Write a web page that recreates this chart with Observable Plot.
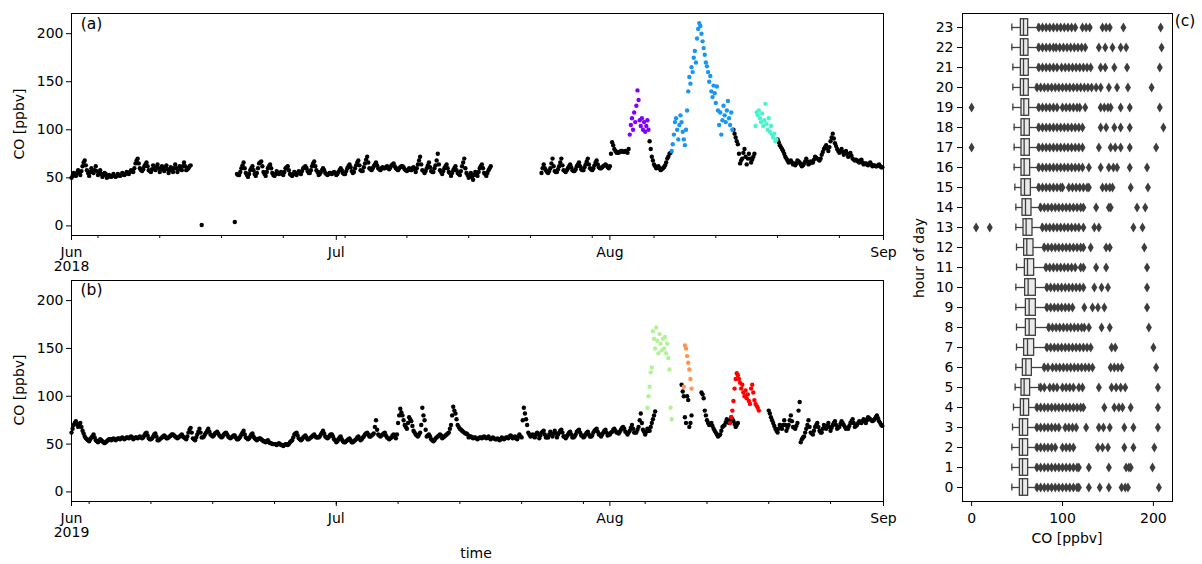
<!DOCTYPE html>
<html><head><meta charset="utf-8">
<script src="https://cdn.jsdelivr.net/npm/d3@7"></script>
<script src="https://cdn.jsdelivr.net/npm/@observablehq/plot@0.6"></script>
<style>
body{margin:0;background:#fff;font-family:"DejaVu Sans",sans-serif;}
#fig{position:relative;width:1202px;height:564px;overflow:hidden;background:#fff;}
.p{position:absolute;}
.t{position:absolute;transform:translate(-50%,-50%);white-space:nowrap;font-size:14px;color:#000;line-height:1;}
.r{transform:translate(-50%,-50%) rotate(-90deg);}
.pl{font-size:15.5px;}
</style></head><body>
<div id="fig">
 <div class="p" id="pa" style="left:0;top:0"></div>
 <div class="p" id="pb" style="left:0;top:267px"></div>
 <div class="p" id="pc" style="left:900px;top:0"></div>
 <div class="t r" style="left:19px;top:124px">CO [ppbv]</div>
 <div class="t r" style="left:19px;top:390px">CO [ppbv]</div>
 <div class="t" style="left:476px;top:553px">time</div>
 <div class="t r" style="left:919px;top:258px">hour of day</div>
 <div class="t" style="left:1067px;top:538px">CO [ppbv]</div>
 <div class="t pl" style="left:91.5px;top:25px">(a)</div>
 <div class="t pl" style="left:91.5px;top:291px">(b)</div>
 <div class="t pl" style="left:1185px;top:22px">(c)</div>
</div>
<script>
const N = null;
// ---- 2018 CO, 8 values per day (3 h step) from 2018-06-01 00:00 UTC
const co2018 = [
 50,52,55,54,52,55,58,55,
 53,57,62,66,68,63,58,55,
 52,56,60,57,55,58,62,57,
 53,56,58,54,51,53,55,54,
 50,51,53,52,51,52,54,52,
 51,52,54,53,52,53,55,54,
 53,54,56,55,54,56,58,57,
 56,60,65,68,70,65,60,58,
 57,59,62,64,66,62,58,57,
 56,59,63,60,58,61,64,60,
 56,59,62,60,57,60,63,59,
 55,58,61,58,56,60,64,60,
 56,59,62,60,58,62,66,62,
 58,59,60,62,63,N,N,N,
 N,N,N,N,N,N,1,N,
 N,N,N,N,N,N,N,N,
 N,N,N,N,N,N,N,N,
 N,N,N,N,N,N,N,N,
 N,N,N,N,4,N,54,53,
 53,56,60,63,66,60,55,53,
 51,54,58,60,62,58,54,52,
 55,60,65,66,67,62,56,54,
 52,56,60,62,64,60,55,53,
 52,54,57,55,54,55,56,54,
 53,56,60,61,62,58,54,53,
 52,54,56,54,53,55,57,55,
 54,57,60,61,62,60,57,55,
 55,58,62,65,67,62,58,56,
 53,54,56,58,60,58,55,54,
 53,54,55,55,54,55,56,55,
 53,54,56,58,60,58,55,54,
 54,57,60,62,64,61,57,55,
 56,60,63,66,68,63,58,57,
 57,61,65,69,72,66,60,59,
 58,60,62,64,66,63,60,59,
 58,60,61,60,60,61,62,60,
 59,61,63,64,65,62,60,59,
 58,60,61,62,62,61,59,58,
 57,58,60,59,58,60,61,59,
 56,60,64,68,72,64,58,57,
 55,57,60,63,66,61,57,56,
 56,60,63,68,75,64,58,56,
 54,57,60,62,64,60,56,55,
 52,55,58,60,62,58,55,54,
 53,57,62,66,70,60,55,53,
 50,52,55,51,48,53,56,54,
 52,56,60,62,64,60,55,54,
 52,55,58,60,62,N,N,N,
 N,N,N,N,N,N,N,N,
 N,N,N,N,N,N,N,N,
 N,N,N,N,N,N,N,N,
 N,N,N,N,N,N,N,N,
 N,N,N,N,N,N,N,N,
 N,N,55,60,64,60,58,56,
 55,57,60,65,70,62,57,56,
 56,59,62,66,70,63,58,57,
 56,58,60,62,64,61,58,57,
 57,59,62,64,66,62,59,58,
 58,61,64,67,70,64,60,59,
 58,60,63,66,68,64,61,60,
 60,61,62,63,64,63,61,60,
 62,75,87,84,80,78,76,77,
 76,77,78,78,77,77,78,77,
 76,80,N,N,N,N,N,N,
 N,N,N,N,N,N,N,N,
 N,N,N,N,88,80,72,68,
 64,62,60,61,62,60,58,59,
 60,61,63,66,70,72,75,76,
 N,N,N,N,N,N,N,N,
 N,N,N,N,N,N,N,N,
 N,N,N,N,N,N,N,N,
 N,N,N,N,N,N,N,N,
 N,N,N,N,N,N,N,N,
 N,N,N,N,N,N,N,N,
 N,N,N,N,N,N,N,N,
 100,96,92,88,85,75,65,68,
 70,76,80,72,64,70,75,70,
 66,69,72,75,N,N,N,N,
 N,N,N,N,N,N,N,N,
 N,N,N,N,N,N,N,N,
 90,87,84,82,80,78,75,72,
 70,68,66,67,68,66,64,65,
 63,65,68,67,66,64,62,63,
 65,67,70,67,64,65,67,66,
 66,69,72,71,70,69,68,70,
 74,77,80,82,84,81,78,82,
 88,92,96,91,86,83,80,78,
 76,78,80,77,74,76,78,75,
 72,74,76,73,70,69,68,69,
 68,67,66,68,69,66,64,65,
 65,64,63,65,66,64,62,63,
 63,62,62,63,64,62,61,61
];
// ---- 2019 CO, 8 values per day (3 h step) from 2019-06-01 00:00 UTC
const co2019 = [
 62,66,70,72,74,71,68,70,
 72,68,64,61,58,56,55,54,
 53,55,57,58,60,57,54,53,
 52,53,55,54,53,52,51,52,
 53,54,55,55,54,55,56,55,
 54,55,56,56,55,56,57,56,
 55,56,57,57,56,57,58,57,
 55,56,57,57,56,57,58,57,
 56,57,59,61,62,59,56,55,
 55,56,58,60,61,58,54,54,
 55,56,57,58,59,58,56,56,
 57,58,59,60,60,59,58,57,
 56,57,58,59,60,58,57,56,
 55,58,62,65,67,62,56,55,
 54,57,60,63,66,62,57,57,
 58,60,62,64,66,63,60,59,
 58,59,61,62,63,61,59,58,
 57,58,60,61,62,60,58,57,
 56,57,58,59,59,57,55,55,
 56,58,60,62,64,60,57,56,
 55,56,58,60,61,58,56,55,
 54,55,56,56,55,54,53,53,
 52,53,54,52,51,51,50,50,
 50,50,49,50,51,50,49,49,
 48,49,50,50,49,50,52,53,
 54,57,60,61,62,59,56,55,
 54,55,57,58,59,57,55,55,
 56,57,58,59,60,58,57,57,
 57,58,60,62,64,61,58,57,
 56,57,59,60,60,58,55,54,
 52,53,55,57,58,55,53,52,
 52,53,54,55,56,54,52,52,
 53,54,55,57,58,56,54,55,
 57,58,60,61,62,60,58,58,
 59,60,61,68,75,65,60,59,
 58,59,60,61,62,59,57,56,
 55,56,57,59,60,58,56,60,
 72,80,87,83,80,75,70,68,
 66,72,78,76,74,69,64,62,
 60,59,58,60,62,70,88,80,
 75,65,58,59,60,58,55,54,
 53,54,56,57,58,59,60,59,
 56,57,58,59,60,61,62,66,
 70,80,89,85,82,76,70,68,
 66,65,64,63,62,61,61,60,
 57,58,58,57,56,57,57,56,
 55,56,57,57,56,57,58,57,
 56,57,58,56,55,56,57,56,
 55,55,56,55,54,55,57,56,
 55,56,57,57,56,58,59,58,
 56,57,58,56,55,58,60,58,
 57,75,88,82,76,70,62,60,
 58,59,60,58,57,60,62,60,
 56,59,62,63,64,60,57,57,
 57,60,63,60,58,61,64,61,
 57,60,62,64,65,62,58,58,
 56,58,60,62,63,60,57,57,
 58,60,63,64,65,62,59,59,
 57,58,60,62,63,60,58,58,
 59,62,64,65,66,63,60,60,
 58,60,62,64,65,62,59,60,
 60,62,63,65,66,64,62,62,
 61,63,65,67,68,66,63,62,
 60,62,64,67,70,66,62,62,
 62,65,68,75,82,72,65,63,
 60,63,66,64,64,68,72,76,
 80,84,N,N,N,N,N,N,
 N,N,N,N,N,N,N,N,
 N,N,N,N,N,N,N,N,
 N,112,105,100,78,72,100,96,
 68,72,80,N,N,N,N,N,
 N,N,N,104,102,98,85,80,
 75,72,70,71,72,69,66,64,
 62,60,58,59,60,64,68,69,
 70,73,76,74,72,75,78,76,
 74,71,68,70,72,N,N,N,
 N,N,N,N,N,N,N,N,
 N,N,N,N,N,N,N,N,
 N,N,N,N,N,N,N,N,
 85,82,78,75,72,69,66,64,
 62,66,70,68,66,70,75,70,
 64,67,70,75,80,74,68,67,
 66,69,72,85,94,52,55,57,
 58,62,66,70,75,68,62,61,
 60,64,68,70,72,68,64,62,
 62,66,70,68,66,69,72,68,
 64,67,70,72,74,70,66,67,
 68,71,74,72,70,68,66,67,
 66,69,72,74,76,72,68,69,
 70,72,74,73,72,74,76,75,
 72,75,78,77,76,75,74,75,
 76,78,80,77,74,72,70,69
];
// ---- pollution events (3 h step)
const purple2018 = [95,105,112,100,118,108,125,141,131,110,104,112,100,108,98,104,110,100];
const blue2018 = [78,85,95,108,112,100,90,105, 115,108,98,90,84,100,120,140,
 155,148,165,160,175,182,170,195, 205,211,208,200,192,185,178,170,
 166,160,150,156,140,134,146,138, 128,145,120,105,118,95,110,125,
 115,108,120,130,112,105,118,100];
const turq2018 = [104,118,115,120,112,108,117,104,110,127,106,100,112,98,104,95,92,96,88,90];
const green2019 = [88,100,110,125,130,168,160,150,172,158,145,165,155,148,160,150,162,145,155,140,128,88,76];
const orange2019 = [110,153,150,142,135,128,118,108];
const red2019 = [72,78,85,95,108,118,124,122,118,114,108,112,104,100,106,98,102,95,92,108,112,104,96,92,90,88,85];
const eventStarts2018 = ["2018-08-03T06:00Z","2018-08-08T00:00Z","2018-08-17T12:00Z"];
const eventColors2018 = ["#8000ff","#1996f3","#4cf2ce"];
const eventStarts2019 = ["2019-08-05T06:00Z","2019-08-09T09:00Z","2019-08-14T15:00Z"];
const eventColors2019 = ["#b2f296","#ff964f","#ff0000"];

// ---- ticks
const yTicks = [0,50,100,150,200];
const monthTicks2018 = ["2018-06-01","2018-07-01","2018-08-01","2018-09-01"];
const monthTicks2019 = ["2019-06-01","2019-07-01","2019-08-01","2019-09-01"];
const monthLabels2018 = ["Jun\n2018","Jul","Aug","Sep"];
const monthLabels2019 = ["Jun\n2019","Jul","Aug","Sep"];
const minor2018 = ["2018-06-04","2018-06-11","2018-06-18","2018-06-25","2018-07-02","2018-07-09","2018-07-16","2018-07-23","2018-07-30","2018-08-06","2018-08-13","2018-08-20","2018-08-27"];
const minor2019 = ["2019-06-03","2019-06-10","2019-06-17","2019-06-24","2019-07-01","2019-07-08","2019-07-15","2019-07-22","2019-07-29","2019-08-05","2019-08-12","2019-08-19","2019-08-26"];

// ---- box plot per hour of day (both summers)
const boxHours = d3.range(0,24);
const whLo = [44.3,44.3,44.3,45.0,46.1,47.9,48.7,49.4,49.4,48.7,48.7,49.4,49.4,48.7,48.7,47.6,46.8,46.8,46.8,45.4,45.4,45.4,44.3,44.3];
const boxQ1 = [53.1,53.1,53.1,53.1,54.2,54.9,56.4,57.8,59.7,59.7,58.9,58.6,57.8,57.1,56.0,54.9,54.9,54.9,54.9,54.9,54.2,54.2,54.2,54.2];
const boxMed = [56.0,56.0,56.0,56.0,57.1,57.8,59.7,61.5,63.3,63.3,62.2,61.5,60.7,60.0,59.3,58.2,57.8,57.8,57.8,57.5,57.1,57.1,57.1,57.1];
const boxQ3 = [62.2,62.2,62.2,62.2,63.3,64.4,66.3,68.8,70.7,70.7,70.7,68.8,68.1,67.0,65.9,65.2,64.4,64.1,64.1,63.3,62.9,62.9,62.6,62.2];
const whHi = [71,71,71,71,71,74,79,82,84,82,82,81,79,77,75,73,73,73,73,73,71,73,73,73];
const outliers = [
 [72,76,80,84,88,92,96,100,104,108,112,116,118,129,141,151,165,169,172,206],
 [72,76,80,84,88,92,96,100,104,108,112,116,118,129,151,170,173,175,199],
 [72,76,80,84,88,92,100,104,108,112,139,144,150,168,178,201],
 [72,76,80,84,88,92,96,103,107,111,115,126,140,145,152,168,178,205],
 [72,76,80,84,88,92,96,100,104,108,112,116,120,123,146,157,162,166,175,205],
 [76,80,86,90,94,100,104,108,112,118,122,140,154,159,164,169,205],
 [80,84,89,93,97,101,105,109,113,117,121,125,129,133,153,157,161,165,203],
 [83,87,91,95,99,103,107,111,115,119,123,127,131,154,158,200],
 [85,89,93,97,101,105,109,113,117,121,124,129,143,152,195],
 [83,87,91,95,99,103,107,111,124,133,139,146,193],
 [83,87,91,95,99,103,107,111,115,119,123,135,143,150,193],
 [82,86,90,94,98,102,106,110,114,120,123,137,148,193],
 [80,84,88,92,96,100,104,108,112,116,120,123,131,148,152,190],
 [5,20,78,82,86,90,94,98,102,106,110,114,118,123,135,140,178,188],
 [76,80,84,88,92,96,100,104,108,112,116,120,123,137,151,153,182,191],
 [74,78,82,86,90,94,98,100,107,111,115,119,123,127,129,144,148,152,155,175,194],
 [74,78,82,86,90,94,98,102,106,110,114,118,122,129,142,151,156,160,174,193],
 [0,74,78,82,86,90,94,98,102,106,110,114,118,122,140,153,158,164,174,203],
 [74,78,82,86,90,94,98,102,106,110,114,118,122,142,148,157,164,174,211],
 [0,74,78,82,86,90,94,100,104,108,112,116,119,125,142,146,150,153,164,174,207],
 [72,76,80,84,88,92,96,100,104,108,112,116,120,124,128,132,137,142,151,160,172,198],
 [74,78,82,86,90,94,99,103,107,111,115,119,123,127,131,142,147,157,171,207],
 [74,78,82,86,90,93,97,101,105,109,113,117,121,125,140,147,155,164,170,209],
 [74,78,82,86,90,94,98,102,106,110,114,122,126,130,144,148,152,167,208]
];

// ---------------- build
const H = 3600e3;
function baseSeries(startStr, values, stepH) {
  const s = Date.parse(startStr);
  return values.map((v,i)=>({t:new Date(s+i*stepH*H), v})).filter(d=>d.v!=null);
}
function eventSeries(starts, colors, arrays) {
  return arrays.flatMap((arr,k)=>{
    const s = Date.parse(starts[k]);
    return arr.map((v,i)=>({t:new Date(s+i*3*H), v, c:colors[k]}));
  });
}
const font = {fontFamily:"DejaVu Sans", fontSize:"14px", color:"black", background:"transparent"};

function timePanel(base, events, majors, labels, minors, plotH) {
  const majorDates = majors.map(s=>new Date(s+"T00:00Z"));
  const minorDates = minors.map(s=>new Date(s+"T00:00Z"));
  const lab = new Map(majorDates.map((d,i)=>[+d, labels[i]]));
  return Plot.plot({
    width: 900, height: plotH + 13 + 50,
    marginLeft: 71, marginRight: 17, marginTop: 13, marginBottom: 50,
    style: font,
    x: {type:"utc", domain:[majorDates[0], majorDates[3]]},
    y: {domain:[-10, 221]},
    color: {type:"identity"},
    marks: [
      Plot.dot(base, {x:"t", y:"v", r:2.2, fill:"black", stroke:"none"}),
      Plot.dot(events, {x:"t", y:"v", r:2.2, fill:"c", stroke:"none"}),
      Plot.frame({stroke:"black", strokeWidth:1}),
      Plot.axisY(yTicks, {tickSize:5, tickPadding:3, label:null}),
      Plot.axisX(minorDates, {tickSize:3, tickFormat:()=>"", label:null}),
      Plot.axisX(majorDates, {tickSize:5, tickPadding:7, tickFormat:d=>lab.get(+d), label:null, lineHeight:1.0})
    ]
  });
}

const baseA = baseSeries("2018-06-01T00:00Z", co2018, 3);
const evA = eventSeries(eventStarts2018, eventColors2018, [purple2018, blue2018, turq2018]);
const baseB = baseSeries("2019-06-01T00:00Z", co2019, 3);
const evB = eventSeries(eventStarts2019, eventColors2019, [green2019, orange2019, red2019]);

document.getElementById("pa").append(timePanel(baseA, evA, monthTicks2018, monthLabels2018, minor2018, 222));
document.getElementById("pb").append(timePanel(baseB, evB, monthTicks2019, monthLabels2019, minor2019, 221));

// box panel
const boxStats = boxHours.map((h,i)=>({hour:h, lo:whLo[i], q1:boxQ1[i], med:boxMed[i], q3:boxQ3[i], hi:whHi[i]}));
const outData = outliers.flatMap((arr,h)=>arr.map(v=>({hour:h, v})));
const thinDiamond = {
  draw(ctx, size) {
    const r = Math.sqrt(size/Math.PI);
    const h = r*1.1, w = r*0.65;
    ctx.moveTo(0,-h); ctx.lineTo(w,0); ctx.lineTo(0,h); ctx.lineTo(-w,0); ctx.closePath();
  }
};
const gray = "#3f3f3f";
const pc = Plot.plot({
  width: 280, height: 545,
  marginLeft: 62, marginRight: 8, marginTop: 13, marginBottom: 44,
  style: font,
  x: {domain:[-10, 221]},
  y: {type:"band", domain: d3.range(23,-1,-1), padding:0},
  marks: [
    Plot.ruleY(boxStats, {y:"hour", x1:"lo", x2:"q1", stroke:gray, strokeWidth:1.3}),
    Plot.ruleY(boxStats, {y:"hour", x1:"q3", x2:"hi", stroke:gray, strokeWidth:1.3}),
    Plot.tickX(boxStats, {x:"lo", y:"hour", insetTop:6.5, insetBottom:6.5, stroke:gray, strokeWidth:1.3}),
    Plot.tickX(boxStats, {x:"hi", y:"hour", insetTop:6.5, insetBottom:6.5, stroke:gray, strokeWidth:1.3}),
    Plot.barX(boxStats, {y:"hour", x1:"q1", x2:"q3", fill:"#eaeaea", stroke:gray, strokeWidth:1.3, insetTop:1.7, insetBottom:1.7}),
    Plot.tickX(boxStats, {x:"med", y:"hour", insetTop:1.7, insetBottom:1.7, stroke:gray, strokeWidth:1.3}),
    Plot.dot(outData, {x:"v", y:"hour", r:4.6, symbol:thinDiamond, fill:"#3d3d3d", stroke:"none"}),
    Plot.frame({stroke:"black", strokeWidth:1}),
    Plot.axisY({tickSize:5, tickPadding:4, label:null}),
    Plot.axisX([0,100,200], {tickSize:5, tickPadding:7, label:null})
  ]
});
document.getElementById("pc").append(pc);
</script>
</body></html>
